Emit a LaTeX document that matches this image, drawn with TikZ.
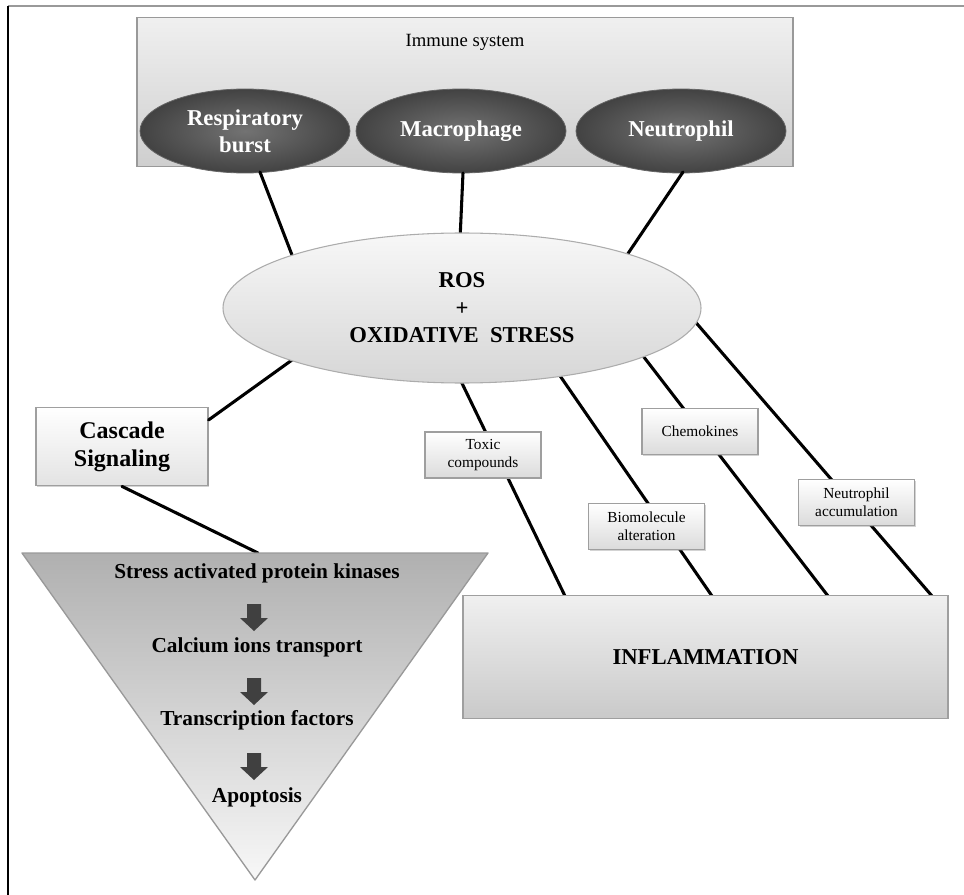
\documentclass[tikz,border=0pt]{standalone}
\usepackage{fontspec}
\setmainfont{Liberation Serif}
\usetikzlibrary{shapes.geometric,shadows,calc}
\begin{document}
\begin{tikzpicture}[x=0.75pt,y=-0.75pt,
  conn/.style={line width=2.3pt, black, line cap=round},
  darkell/.style={ellipse, draw=black!60, line width=0.6pt, inner color=black!55, outer color=black!74,
     minimum width=157.5pt, minimum height=63pt, inner sep=0pt, text=white, align=center,
     font=\fontsize{17}{20.5}\selectfont\bfseries},
  smallbox/.style={rectangle, draw=gray!75, line width=0.8pt, top color=white, bottom color=gray!28,
     minimum width=87pt, minimum height=34.5pt, inner sep=1pt, align=center,
     font=\fontsize{11.5}{13.5}\selectfont, drop shadow={shadow xshift=0.8pt, shadow yshift=-0.8pt, opacity=0.35}},
  tritext/.style={font=\fontsize{16}{18}\selectfont\bfseries, inner sep=0pt},
  downarr/.pic={\fill[black!75] (-7,-13) -- (7,-13) -- (7,1) -- (14,1) -- (0,14) -- (-14,1) -- (-7,1) -- cycle;}
]
\useasboundingbox (0,0) rectangle (964,895);
% frame
\draw[gray!80, line width=2.2pt] (8,6) -- (964,6);
\draw[black, line width=1.4pt] (8,6) -- (8,895);

% immune system box
\node[rectangle, draw=gray!80, line width=1.2pt, top color=gray!12, bottom color=gray!38,
  minimum width=492pt, minimum height=112pt, inner sep=0pt] (immune) at (465,92) {};
\node[font=\fontsize{14}{16}\selectfont] (immunelbl) at (465,42) {Immune system};
\node[darkell] (resp) at (245,131) {Respiratory\\burst};
\node[darkell] (macro) at (461,131) {Macrophage};
\node[darkell] (neut) at (681,131) {Neutrophil};

% connectors immune -> ROS
\coordinate (ra) at (260,172);
\coordinate (rb) at (463,173);
\coordinate (rc) at (683,172);
\coordinate (ta) at (292,255);
\coordinate (tb) at (460,240);
\coordinate (tc) at (627,255);
\draw[conn] (ra) -- (ta);
\draw[conn] (rb) -- (tb);
\draw[conn] (rc) -- (tc);

% connectors to inflammation (drawn first, boxes on top)
\coordinate (s1) at (458,375);
\coordinate (s2) at (556,370);
\coordinate (s3) at (640,352);
\coordinate (s4) at (692,318);
\coordinate (e1) at (565,596);
\coordinate (e2) at (712,596);
\coordinate (e3) at (828,596);
\coordinate (e4) at (932,596);
\draw[conn] (s1) -- (e1);
\draw[conn] (s2) -- (e2);
\draw[conn] (s3) -- (e3);
\draw[conn] (s4) -- (e4);

% cascade connectors
\coordinate (s5) at (292,360);
\coordinate (tritop) at (258,553);
\node[rectangle, draw=gray!75, line width=0.8pt, top color=white, bottom color=gray!22,
  minimum width=129pt, minimum height=59pt, inner sep=0pt, align=center,
  font=\fontsize{18}{21}\selectfont\bfseries,
  drop shadow={shadow xshift=0.8pt, shadow yshift=-0.8pt, opacity=0.35}] (casc) at (122,446.5) {Cascade\\Signaling};
\draw[conn] (s5) -- (casc.east |- 0,420);
\draw[conn] (casc.south -| 122,0) -- (tritop);

\node[ellipse, draw=gray!65, line width=0.8pt, top color=gray!6, bottom color=gray!32,
  minimum width=358.5pt, minimum height=112.5pt, inner sep=0pt, align=center,
  font=\fontsize{17}{20.5}\selectfont\bfseries] (ros) at (462,308) {ROS\\+\\OXIDATIVE\ \ STRESS};

% small label boxes
\node[smallbox] (tox) at (483,455) {Toxic\\compounds};
\node[smallbox] (chem) at (700,431.5) {Chemokines};
\node[smallbox] (bio) at (646.5,526.5) {Biomolecule\\alteration};
\node[smallbox] (neuacc) at (856.5,502.5) {Neutrophil\\accumulation};

% triangle
\coordinate (tl) at (22,553);
\coordinate (tr) at (488,553);
\coordinate (tb2) at (255,880);
\shade[top color=gray!62, bottom color=gray!6] (tl) -- (tr) -- (tb2) -- cycle;
\draw[gray!80, line width=1pt, line join=round] (tl) -- (tr) -- (tb2) -- cycle;
\node[tritext] (t1) at (257,573) {Stress activated protein kinases};
\pic at (254,617) {downarr};
\node[tritext] (t2) at (257,647) {Calcium ions transport};
\pic at (254,691) {downarr};
\node[tritext] (t3) at (257,720) {Transcription factors};
\pic at (254,766) {downarr};
\node[tritext] (t4) at (257,797) {Apoptosis};

% inflammation box
\node[rectangle, draw=gray!75, line width=1.2pt, top color=gray!12, bottom color=gray!42,
  minimum width=363.75pt, minimum height=92.25pt, inner sep=0pt,
  font=\fontsize{17}{19}\selectfont\bfseries] (infl) at (705.5,657) {INFLAMMATION};
\end{tikzpicture}
\end{document}
